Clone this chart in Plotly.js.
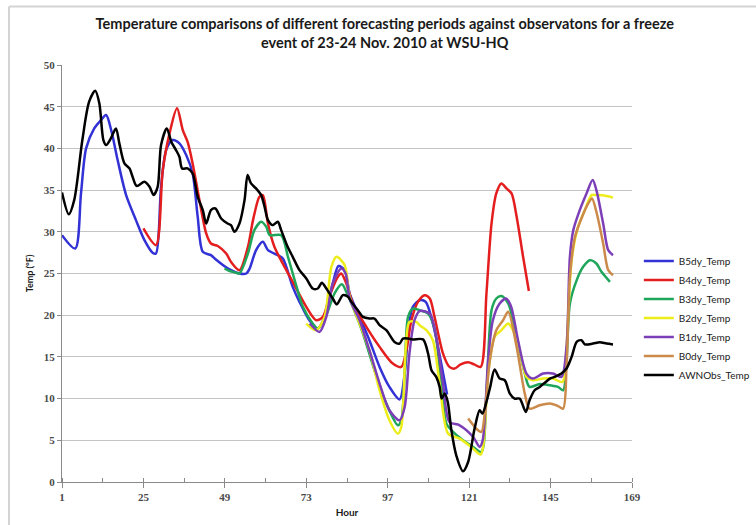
<!DOCTYPE html>
<html>
<head>
<meta charset="utf-8">
<script src="https://cdn.plot.ly/plotly-3.0.1.min.js"></script>
<style>
  html, body { margin: 0; padding: 0; background: #ffffff; }
  #chart { width: 756px; height: 525px; overflow: hidden; }
</style>
</head>
<body>
<div id="chart"></div>
<script>
// Hourly temperature (°F) for each forecast period and the AWN observations.
const seriesNames = ["B5dy_Temp", "B4dy_Temp", "B3dy_Temp", "B2dy_Temp", "B1dy_Temp", "B0dy_Temp", "AWNObs_Temp"];
const seriesColors = ["#3232d6", "#e41e1e", "#1fa65a", "#eded1c", "#7d3fb8", "#cc8a4a", "#000000"];

const hoursB5 = [1, 4.9, 6.6, 8.1, 10.5, 12.5, 14, 15.5, 17.4, 19.9, 22.8, 25.3, 27.7, 28.7, 30.2, 31.7, 33.6, 35.6, 37.6, 39.5, 41, 42.5, 44.9, 46, 48.5, 50.4, 53.3, 55.3, 56.3, 58.2, 60.2, 61.7, 64.6, 66.1, 69, 71, 73.9, 76.4, 78.4, 80.8, 82.5, 84.3, 85.8, 88.7, 91.6, 94.6, 97.5, 100.5, 102, 103.2, 104.4, 106.4, 108.2, 110.3, 112.3, 114.5];
const tempB5  = [29.6, 28, 34.6, 40, 42.4, 43.4, 44, 42.2, 38.6, 34.4, 31.4, 29, 27.5, 27.4, 35.4, 39.8, 41, 40.6, 39.2, 37, 31.8, 27.6, 27.2, 26.8, 26, 25.5, 25, 25, 25.6, 27.8, 28.8, 27.8, 27.2, 26.8, 23.4, 21.6, 19.4, 18.4, 19.8, 23.8, 25.9, 25.4, 22.6, 19.8, 17, 13.8, 11.4, 9.9, 13, 18.6, 21, 21.8, 21.6, 19, 15.2, 10.5];

const hoursB4 = [25, 28.7, 30.7, 32.7, 34.9, 36.6, 38, 39.5, 41.5, 43.5, 44.9, 46.9, 49.4, 50.8, 53.3, 55.8, 57.3, 59.2, 60.2, 61.7, 63.6, 66.6, 69, 73, 75.9, 77.9, 79.8, 82.3, 83.3, 84.8, 86.7, 90.7, 94.6, 98.5, 101, 102.5, 104, 105.9, 107.9, 109.4, 110.8, 113.3, 115.2, 116.7, 118.5, 120.7, 122.5, 124.4, 126.1, 127.6, 129, 130.5, 132, 133.5, 135, 136.9, 138.6];
const tempB4  = [30.4, 28.4, 37.4, 41.8, 44.8, 42.2, 40.8, 38.2, 33.8, 29.8, 28.6, 28.3, 27.4, 26.4, 25.4, 28.2, 31.4, 34.2, 34.4, 31, 28.2, 25.8, 24, 21, 19.4, 19.8, 22.2, 24.6, 25, 23.8, 21.4, 18.6, 16.2, 14.2, 13.8, 15.8, 19.4, 21.6, 22.4, 22, 19.8, 15.4, 13.8, 13.6, 14.1, 14.35, 14.1, 13.8, 22.6, 31, 34.6, 35.8, 35.2, 34.6, 31.8, 27, 22.9];

const hoursB3 = [48.9, 50.4, 52.3, 53.3, 55.8, 57.7, 59.7, 61.2, 62.2, 65.6, 67.6, 70, 72, 74.9, 76.4, 78.9, 81.3, 83.5, 84.8, 86.7, 89.7, 93.1, 96.6, 100, 101, 102, 103, 104.4, 106.4, 108.9, 110.8, 112.6, 114.3, 115.8, 119.2, 122.2, 124.6, 126.1, 127.6, 129, 130.5, 132.5, 135, 137.4, 138.8, 141.8, 144.8, 147.2, 148.7, 149.7, 150.7, 152.7, 154.6, 156.6, 158.5, 160, 162.5];
const tempB3  = [25.6, 25.3, 25.1, 25, 27.4, 30.2, 31.2, 30.6, 29.6, 29.6, 27, 23.6, 21, 19, 18.4, 20, 22.6, 23.7, 22.8, 21, 17.8, 13.4, 9.4, 6.8, 7.4, 13, 19.8, 20.8, 20.6, 20.2, 18.4, 12.5, 7, 6.2, 5, 4.2, 3.6, 10.6, 20.6, 22, 22.3, 21.4, 17.4, 13, 11.4, 11.75, 11.6, 11.4, 11, 14.6, 21.4, 24.2, 25.8, 26.6, 26.2, 25.2, 24];

const hoursB2 = [73, 75.9, 78.4, 80.4, 81.9, 84.3, 85.8, 88.7, 91.6, 94.6, 97.5, 100, 101, 102.3, 103.4, 105.4, 106.4, 108.4, 110.3, 112.3, 114.8, 118.2, 122.2, 124.4, 126.6, 128.5, 130.5, 132.5, 133.9, 135.9, 137.9, 139.8, 142.8, 145.7, 148.5, 149.7, 151.2, 153.1, 155.1, 157.1, 158.5, 161.5, 163.4];
const tempB2  = [19, 18.2, 19.8, 25.8, 27, 26, 22.2, 19, 15.8, 11, 7.4, 5.8, 6.6, 16, 19.2, 19.2, 18.8, 18.2, 17, 11.8, 5.8, 5.2, 4, 3.3, 13, 17.4, 18.2, 19, 18.2, 15.8, 12.6, 12.2, 12.4, 12.4, 12, 16.2, 26.6, 30.6, 32.6, 34.4, 34.4, 34.3, 34.1];

const hoursB1 = [74, 76.9, 78.9, 80.8, 83.3, 84.6, 85.8, 88.7, 91.6, 94.6, 97.5, 100.5, 102, 103.4, 104.9, 106.4, 109.4, 111.3, 113.3, 115.2, 118.2, 122.2, 124.1, 125, 126.6, 128, 130, 131.9, 133.4, 135.4, 137.9, 139.8, 142.8, 145.7, 148.2, 149.7, 150.7, 151.7, 153.6, 155.6, 157.4, 158.5, 160.5, 162, 163.4];
const tempB1  = [19, 18, 19.8, 23.8, 25.6, 25, 22, 19.4, 15.8, 11.8, 8.6, 7.4, 9, 15.4, 19.4, 20.5, 20.2, 17.4, 11.8, 7.2, 6.8, 5.4, 4.2, 5, 14.6, 19.4, 21.4, 22, 21, 17, 13, 12.4, 13, 13, 12.6, 16.2, 27, 30.2, 32.6, 34.6, 36.2, 35, 31, 27.8, 27.2];

const hoursB0 = [120.7, 123.1, 124.6, 125.6, 127.1, 129, 131, 132.5, 135, 137.4, 138.8, 141.8, 144.8, 147.2, 148.7, 149.7, 150.7, 152.2, 154.1, 156.1, 157.2, 158.5, 160.5, 162, 163.4];
const tempB0  = [7.6, 6.4, 6, 8.2, 14.6, 18.2, 19.4, 20.4, 16.2, 10.6, 8.8, 9.2, 9.4, 9.1, 8.8, 13.8, 24.6, 29.4, 31.6, 33.4, 34, 32.4, 28.6, 25.4, 24.8];

const hoursObs = [1, 3, 4.6, 7, 9, 10.8, 12, 13.2, 14, 15.4, 16.9, 17.9, 19.4, 20.9, 21.8, 23, 25.3, 26.8, 28, 29.2, 30.2, 31.9, 33.2, 34.6, 35.6, 36.4, 38, 39.5, 41, 42.5, 43.5, 44.9, 46.2, 47.9, 49.8, 50.8, 51.8, 53.3, 54.8, 55.7, 56.7, 58.2, 59.7, 60.7, 61.7, 63.1, 64.6, 65.6, 67.5, 69, 71, 73, 74.9, 76.4, 77.6, 78.9, 80.8, 82, 83.8, 85.3, 86.3, 88.2, 89.7, 91.6, 93.1, 94.6, 96.6, 99, 100.5, 101.5, 103, 104.4, 107.4, 108.9, 109.9, 111.3, 112.3, 112.9, 113.8, 114.7, 115.7, 117.2, 119.2, 120.7, 122.6, 124.1, 124.9, 126.1, 127.2, 128.5, 130, 131.5, 133, 134.4, 135.9, 137.7, 138.8, 140.3, 141.8, 143.3, 144.8, 146.2, 148.2, 149.7, 151.2, 152.7, 154.1, 155.1, 157.5, 159.5, 161.5, 163.4];
const tempObs  = [34.7, 32.1, 33.8, 41, 45.6, 46.9, 45.4, 41, 40.4, 41.2, 42.4, 40.6, 38.2, 37.6, 36.6, 35.5, 36, 35.4, 34.4, 35.4, 40.4, 42.4, 40.8, 39.8, 39, 37.6, 37.6, 37, 34.2, 32.6, 31, 32.6, 32.8, 31.6, 31, 30.8, 30, 31, 33.8, 36.8, 35.8, 35.2, 34.4, 33, 31.4, 30.8, 31.2, 30.2, 28.2, 27, 25.4, 24.4, 23.2, 23.2, 23.9, 23.2, 22, 21.3, 22.4, 22.2, 21.6, 20.6, 19.8, 19.6, 19.6, 18.8, 18.2, 16.8, 16.6, 17.2, 17.2, 17.1, 17.1, 15.4, 13.4, 12.6, 11.4, 10, 10.6, 9.6, 6.4, 3.2, 1.3, 2.4, 6.4, 8.6, 8.2, 9.6, 11.4, 13.5, 12.4, 12.2, 10.6, 10, 10, 8.4, 9.8, 11, 11.4, 11.9, 12.4, 12.6, 13, 13.6, 15, 16.8, 17, 16.5, 16.6, 16.75, 16.6, 16.5];

// X ticks: labelled every 24 h, minor marks every 12 h
const xTickVals = [1, 25, 49, 73, 97, 121, 145, 169];
const xTickText = ["1", "25", "49", "73", "97", "121", "145", "169"];

const hoursList = [hoursB5, hoursB4, hoursB3, hoursB2, hoursB1, hoursB0, hoursObs];
const tempList  = [tempB5, tempB4, tempB3, tempB2, tempB1, tempB0, tempObs];

const traces = seriesNames.map((name, i) => ({
  type: "scatter",
  mode: "lines",
  name: name,
  x: hoursList[i],
  y: tempList[i],
  line: { color: seriesColors[i], width: 2.5, shape: "spline", smoothing: 0.8 },
  hoverinfo: "x+y+name"
}));

const tickFont = { family: "Liberation Serif, DejaVu Serif, serif", size: 11, color: "#4a4a4a", weight: "bold" };
const labelFont = { family: "Lato, Carlito, Calibri, sans-serif", size: 10, color: "#1a1a1a", weight: "bold" };

const layout = {
  width: 756,
  height: 525,
  // fixed plot area; the legend sits in the right margin
  margin: { l: 62, r: 124, t: 65, b: 43, autoexpand: false },
  paper_bgcolor: "#ffffff",
  plot_bgcolor: "#ffffff",
  showlegend: true,
  title: {
    text: "Temperature comparisons of different forecasting periods against observatons for a freeze<br>event of 23-24 Nov. 2010 at WSU-HQ",
    font: { family: "Lato, Carlito, Calibri, sans-serif", size: 14.5, color: "#1a1a1a", weight: "bold" },
    xref: "container", x: 0.509, xanchor: "center",
    yref: "container", y: 0.944, yanchor: "top"
  },
  xaxis: {
    range: [1, 169],
    tickmode: "array",
    tickvals: xTickVals,
    ticktext: xTickText,
    ticks: "outside",
    ticklen: 5,
    tickcolor: "#8a8a8a",
    tickfont: tickFont,
    showline: true,
    linecolor: "#8a8a8a",
    linewidth: 1,
    showgrid: false,
    zeroline: false,
    minor: { tick0: 1, dtick: 12, ticks: "inside", ticklen: 4, tickcolor: "#8a8a8a", showgrid: false },
    title: { text: "Hour", font: labelFont, standoff: 6 }
  },
  yaxis: {
    range: [0, 50],
    dtick: 5,
    tick0: 0,
    ticks: "outside",
    ticklen: 4,
    tickcolor: "#8a8a8a",
    tickfont: tickFont,
    showline: true,
    linecolor: "#8a8a8a",
    linewidth: 1,
    showgrid: true,
    gridcolor: "#c4c4c4",
    gridwidth: 1,
    zeroline: false,
    title: { text: "Temp (°F)", font: { family: "Lato, Carlito, Calibri, sans-serif", size: 9, color: "#1a1a1a", weight: "bold" }, standoff: 8 }
  },
  legend: {
    x: 1.012, xanchor: "left",
    y: 0.565, yanchor: "top",
    bgcolor: "rgba(0,0,0,0)",
    font: { family: "Lato, Carlito, Calibri, sans-serif", size: 10, color: "#1a1a1a" },
    tracegroupgap: 0
  },
  shapes: [
    // light frame around the chart area
    { type: "line", xref: "paper", yref: "paper", x0: -0.093, x1: -0.093, y0: -0.2, y1: 1.14,
      line: { color: "#d4d4d4", width: 2 } },
    { type: "line", xref: "paper", yref: "paper", x0: -0.093, x1: 1.3, y0: 1.14, y1: 1.14,
      line: { color: "#d4d4d4", width: 2 } }
  ]
};

Plotly.newPlot("chart", traces, layout, { displayModeBar: false, staticPlot: true });
</script>
</body>
</html>
